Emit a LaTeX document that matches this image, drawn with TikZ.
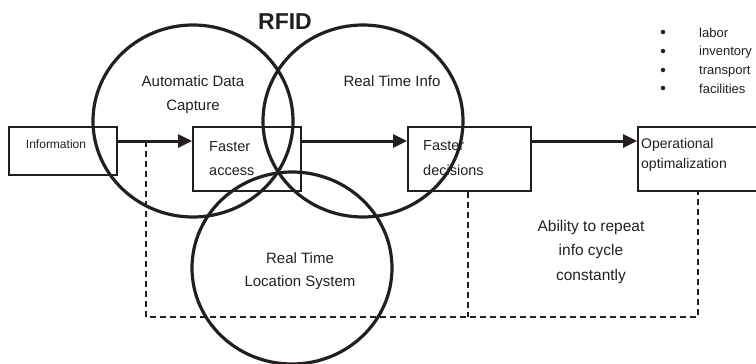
\documentclass[tikz,border=0pt]{standalone}
\usepackage{fontspec}
\setmainfont{Liberation Sans}
\usetikzlibrary{arrows.meta,shapes.geometric}
\definecolor{ink}{HTML}{231F20}
\begin{document}
\begin{tikzpicture}[x=1pt,y=-1pt,
  box/.style={draw=ink,line width=1.5pt,rectangle,inner sep=0pt,anchor=north west},
  ring/.style={draw=ink,line width=3.2pt,ellipse,minimum width=200pt,minimum height=192pt,inner sep=0pt},
  arr/.style={draw=ink,line width=3pt,-{Triangle[length=14pt,width=13pt]}},
  dashline/.style={draw=ink,line width=2.6pt,dash pattern=on 6pt off 4pt},
  lbl/.style={text=ink,inner sep=0pt,anchor=base},
  lblw/.style={text=ink,inner sep=0pt,anchor=base west},
  dot/.style={fill=ink,circle,inner sep=0pt,minimum size=4.5pt}
]
\useasboundingbox (0,0) rectangle (756,364);

% boxes
\node[box,minimum width=108pt,minimum height=48pt] (info) at (8,126) {};
\node[box,minimum width=108pt,minimum height=64pt] (fa) at (192,126) {};
\node[box,minimum width=123pt,minimum height=64pt] (fd) at (407,126) {};
\node[box,minimum width=125pt,minimum height=64pt] (op) at (637,126) {};

% box texts
\node[lbl,font=\fontsize{12}{14}\selectfont] (tinfo) at (56,148) {Information};
\node[lblw,font=\fontsize{14.5}{17}\selectfont] (tfa1) at (209,151) {Faster};
\node[lblw,font=\fontsize{14.5}{17}\selectfont] (tfa2) at (209,175) {access};
\node[lblw,font=\fontsize{14.5}{17}\selectfont] (tfd1) at (423,150) {Faster};
\node[lblw,font=\fontsize{14.5}{17}\selectfont] (tfd2) at (423,175) {decisions};
\node[lblw,font=\fontsize{14}{17}\selectfont] (top1) at (641,148) {Operational};
\node[lblw,font=\fontsize{14}{17}\selectfont] (top2) at (641,168) {optimalization};

% circles
\node[ring] (adc) at (193,121) {};
\node[ring] (rti) at (363,121) {};
\node[ring] (rtls) at (292,268) {};

% circle texts
\node[lbl,font=\bfseries\fontsize{23}{24}\selectfont] (rfid) at (285,30) {RFID};
\node[lbl,font=\fontsize{15}{17}\selectfont] (tadc1) at (193,86) {Automatic Data};
\node[lbl,font=\fontsize{15}{17}\selectfont] (tadc2) at (193,110) {Capture};
\node[lbl,font=\fontsize{15}{17}\selectfont] (trti) at (392,86) {Real Time Info};
\node[lbl,font=\fontsize{15}{17}\selectfont] (trtls1) at (300,263) {Real Time};
\node[lbl,font=\fontsize{15}{17}\selectfont] (trtls2) at (300,286) {Location System};

% ability text
\node[lbl,font=\fontsize{15.5}{18}\selectfont] (tab1) at (591,231) {Ability to repeat};
\node[lbl,font=\fontsize{15.5}{18}\selectfont] (tab2) at (591,255) {info cycle};
\node[lbl,font=\fontsize{15.5}{18}\selectfont] (tab3) at (591,280) {constantly};

% bullets
\node[dot] (b1) at (663,32) {};
\node[dot] (b2) at (663,51) {};
\node[dot] (b3) at (663,70) {};
\node[dot] (b4) at (663,88) {};
\node[lblw,font=\fontsize{13}{15}\selectfont] (l1) at (699,37) {labor};
\node[lblw,font=\fontsize{13}{15}\selectfont] (l2) at (699,56) {inventory};
\node[lblw,font=\fontsize{13}{15}\selectfont] (l3) at (699,74.5) {transport};
\node[lblw,font=\fontsize{13}{15}\selectfont] (l4) at (699,93) {facilities};

% arrows
\draw[arr] ([yshift=-15pt]info.north east) -- ([yshift=-15pt]fa.north west);
\draw[arr] ([yshift=-15pt]fa.north east) -- ([yshift=-15pt]fd.north west);
\draw[arr] ([yshift=-15pt]fd.north east) -- ([yshift=-15pt]op.north west);

% dashed loop
\coordinate (j1) at (146,141);
\coordinate (c1) at (146,317);
\draw[dashline] (j1) -- (c1) -| ([xshift=61pt]op.south west);
\draw[dashline] ([xshift=61pt]fd.south west) -- ([xshift=61pt]fd.south west |- c1);
\end{tikzpicture}
\end{document}
